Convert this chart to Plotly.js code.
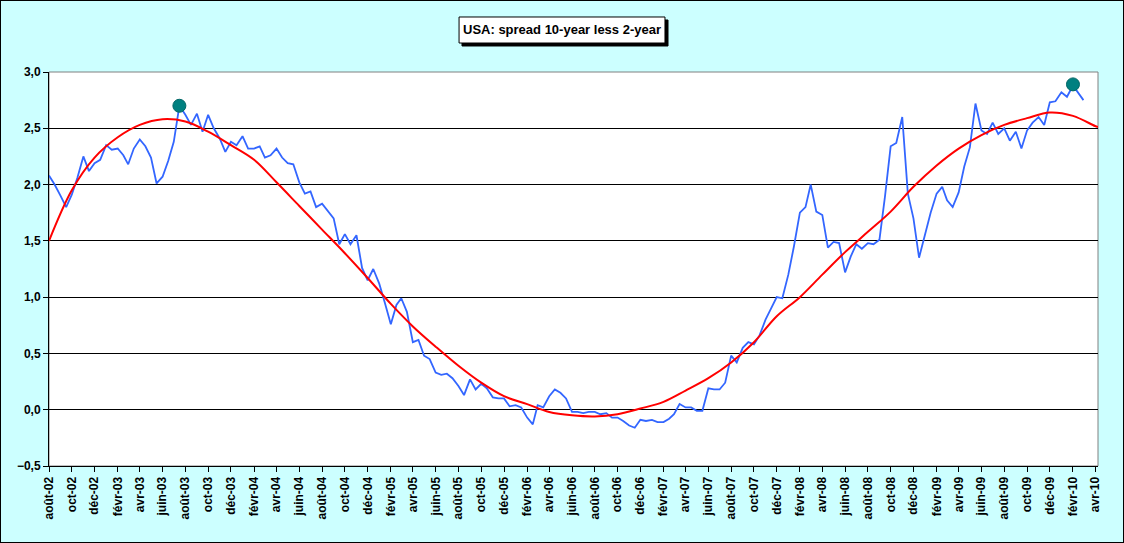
<!DOCTYPE html>
<html>
<head>
<meta charset="utf-8">
<script src="https://cdn.plot.ly/plotly-3.0.1.min.js"></script>
<style>
  body { margin: 0; }
  #chart { width: 1122px; height: 541px; border: 1px solid #000; }
</style>
</head>
<body>
<div id="chart"></div>
<script>
// spread 10y - 2y, read twice a month (1st and 16th) from août-02 on
const spread = [
  2.08, 2.00, 1.90, 1.80, 1.91, 2.06, 2.25, 2.12, 2.19, 2.22,
  2.35, 2.31, 2.32, 2.26, 2.18, 2.32, 2.40, 2.34, 2.24, 2.01,
  2.07, 2.21, 2.38, 2.70, 2.62, 2.53, 2.63, 2.47, 2.62, 2.50,
  2.41, 2.29, 2.38, 2.35, 2.43, 2.32, 2.32, 2.34, 2.24, 2.26,
  2.32, 2.24, 2.19, 2.18, 2.02, 1.92, 1.94, 1.80, 1.83, 1.77,
  1.70, 1.47, 1.56, 1.47, 1.55, 1.26, 1.15, 1.25, 1.12, 0.95,
  0.76, 0.93, 0.99, 0.87, 0.60, 0.62, 0.48, 0.45, 0.33, 0.31,
  0.32, 0.28, 0.21, 0.13, 0.27, 0.18, 0.23, 0.19, 0.11, 0.10,
  0.10, 0.03, 0.04, 0.02, -0.07, -0.13, 0.04, 0.02, 0.12, 0.18,
  0.15, 0.10, -0.02, -0.02, -0.03, -0.02, -0.02, -0.04, -0.03, -0.07,
  -0.07, -0.10, -0.14, -0.16, -0.09, -0.10, -0.09, -0.11, -0.11, -0.08,
  -0.04, 0.05, 0.02, 0.02, -0.01, -0.01, 0.19, 0.18, 0.18, 0.24,
  0.48, 0.42, 0.55, 0.60, 0.58, 0.66, 0.80, 0.90, 1.00, 0.99,
  1.20, 1.45, 1.75, 1.80, 2.00, 1.76, 1.73, 1.44, 1.49, 1.48,
  1.22, 1.36, 1.47, 1.43, 1.48, 1.47, 1.51, 1.90, 2.34, 2.37,
  2.60, 1.92, 1.70, 1.35, 1.55, 1.75, 1.92, 1.98, 1.86, 1.80,
  1.93, 2.16, 2.33, 2.72, 2.48, 2.45, 2.55, 2.45, 2.50, 2.39,
  2.47, 2.32, 2.48, 2.55, 2.60, 2.53, 2.73, 2.74, 2.82, 2.78,
  2.88, 2.81, 2.75
];

// tick labels, one every 2 months
const tickLabels = [
  'août-02', 'oct-02', 'déc-02', 'févr-03', 'avr-03', 'juin-03', 'août-03', 'oct-03',
  'déc-03', 'févr-04', 'avr-04', 'juin-04', 'août-04', 'oct-04', 'déc-04', 'févr-05',
  'avr-05', 'juin-05', 'août-05', 'oct-05', 'déc-05', 'févr-06', 'avr-06', 'juin-06',
  'août-06', 'oct-06', 'déc-06', 'févr-07', 'avr-07', 'juin-07', 'août-07', 'oct-07',
  'déc-07', 'févr-08', 'avr-08', 'juin-08', 'août-08', 'oct-08', 'déc-08', 'févr-09',
  'avr-09', 'juin-09', 'août-09', 'oct-09', 'déc-09', 'févr-10', 'avr-10'
];

// trend curve, read at each tick, then at the right edge
const trend = [
  1.50, 1.95, 2.24, 2.42, 2.53, 2.58, 2.56, 2.47, 2.35, 2.22,
  2.02, 1.81, 1.60, 1.39, 1.17, 0.94, 0.74, 0.56, 0.39, 0.24,
  0.12, 0.05, -0.02, -0.05, -0.06, -0.04, 0.01, 0.07, 0.17, 0.28,
  0.42, 0.60, 0.83, 1.00, 1.20, 1.40, 1.58, 1.76, 1.98, 2.17,
  2.32, 2.44, 2.53, 2.59, 2.64, 2.61, 2.52
];
const trendEnd = 2.51;

// highlighted highs
const highDates = ['2003-07-16', '2010-02-01'];
const highValues = [2.70, 2.89];

const axisEnd = '2010-04-09';

function iso(y, m, d) {
  return new Date(Date.UTC(y, m, d)).toISOString().slice(0, 10);
}

const spreadDates = spread.map((v, i) => iso(2002, 7 + Math.floor(i / 2), i % 2 ? 16 : 1));
const tickDates = tickLabels.map((t, k) => iso(2002, 7 + 2 * k, 1));

const font = { family: 'Arial, Liberation Sans, sans-serif', size: 12, color: '#000', weight: 'bold' };

var data = [
  {
    x: spreadDates,
    y: spread,
    type: 'scatter',
    mode: 'lines',
    line: { color: '#3366FF', width: 1.8 },
    hoverinfo: 'skip'
  },
  {
    x: tickDates.concat([axisEnd]),
    y: trend.concat([trendEnd]),
    type: 'scatter',
    mode: 'lines',
    line: { color: '#FF0000', width: 2, shape: 'spline', smoothing: 1 },
    hoverinfo: 'skip'
  },
  {
    x: highDates,
    y: highValues,
    type: 'scatter',
    mode: 'markers',
    marker: { color: '#008080', size: 13, line: { color: '#006666', width: 1 } },
    hoverinfo: 'skip',
    cliponaxis: false
  }
];

var layout = {
  width: 1122,
  height: 541,
  margin: { l: 48, r: 25, t: 71, b: 76 },
  paper_bgcolor: '#CCFFFF',
  plot_bgcolor: '#FFFFFF',
  showlegend: false,
  separators: ', ',
  font: font,
  xaxis: {
    type: 'date',
    range: ['2002-08-01', axisEnd],
    tickvals: tickDates,
    ticktext: tickLabels,
    tickangle: -90,
    tickfont: font,
    ticks: 'outside',
    ticklen: 5,
    tickcolor: '#000',
    showgrid: false,
    showline: true,
    linecolor: '#000',
    linewidth: 1,
    zeroline: false
  },
  yaxis: {
    range: [-0.5, 3.0],
    dtick: 0.5,
    tick0: 0,
    tickformat: '.1f',
    tickfont: font,
    ticks: 'outside',
    ticklen: 5,
    tickcolor: '#000',
    showgrid: true,
    gridcolor: '#000',
    gridwidth: 1,
    zeroline: true,
    zerolinecolor: '#000',
    zerolinewidth: 1,
    showline: true,
    linecolor: '#000',
    linewidth: 1
  },
  shapes: [
    // plot area frame
    {
      type: 'rect', xref: 'paper', yref: 'paper', x0: 0, x1: 1, y0: 0, y1: 1,
      line: { color: '#808080', width: 1 }, layer: 'below'
    },
    // title box shadow
    {
      type: 'rect', xref: 'paper', yref: 'paper', x0: 0.3937, x1: 0.5901, y0: 1.066, y1: 1.132,
      fillcolor: '#000', line: { color: '#000', width: 1 }, layer: 'above'
    },
    // title box
    {
      type: 'rect', xref: 'paper', yref: 'paper', x0: 0.3909, x1: 0.5872, y0: 1.0736, y1: 1.1396,
      fillcolor: '#FFF', line: { color: '#000', width: 1 }, layer: 'above'
    }
  ],
  annotations: [
    {
      text: 'USA: spread 10-year less 2-year', xref: 'paper', yref: 'paper', x: 0.489, y: 1.1066,
      xanchor: 'center', yanchor: 'middle', showarrow: false,
      font: { family: 'Arial, Liberation Sans, sans-serif', size: 13, color: '#000', weight: 'bold' }
    }
  ]
};

Plotly.newPlot('chart', data, layout, { displayModeBar: false, staticPlot: true });
</script>
</body>
</html>
